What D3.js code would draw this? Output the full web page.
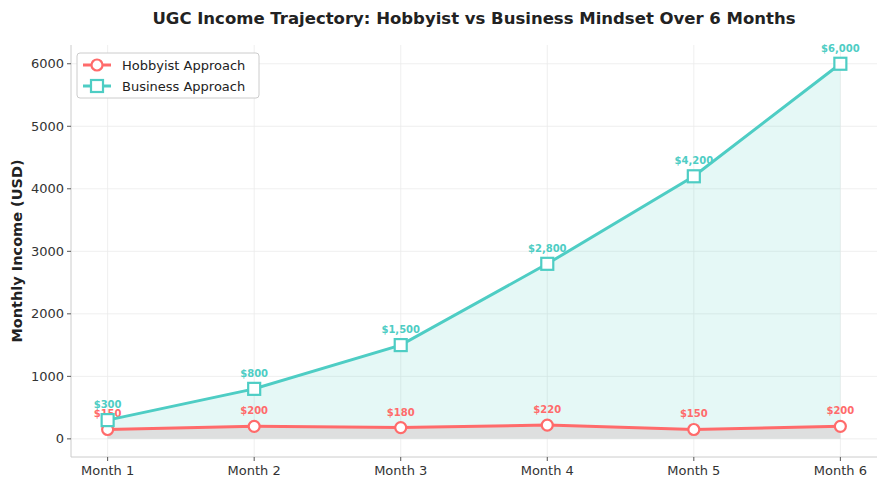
<!DOCTYPE html>
<html><head><meta charset="utf-8">
<script src="https://cdn.jsdelivr.net/npm/d3@7"></script>
<style>body{margin:0;background:#fff;font-family:"DejaVu Sans",sans-serif}</style>
</head><body><svg id="c" width="887" height="486"></svg>
<script>
const months=["Month 1","Month 2","Month 3","Month 4","Month 5","Month 6"];
const hobbyist=[150,200,180,220,150,200];
const business=[300,800,1500,2800,4200,6000];
const yTicks=[0,1000,2000,3000,4000,5000,6000];
const svg=d3.select("#c");
const L=71,R=877,T=45,B=457;
const x=d3.scaleLinear().domain([-0.25,5.25]).range([L,R]);
const y=d3.scaleLinear().domain([-290,6300]).range([B,T]);
const g=svg.append("g");
g.selectAll(".gx").data(months).enter().append("line").attr("x1",(d,i)=>x(i)).attr("x2",(d,i)=>x(i)).attr("y1",T).attr("y2",B).attr("stroke","#ebebeb").attr("stroke-width",0.8);
g.selectAll(".gy").data(yTicks).enter().append("line").attr("x1",L).attr("x2",R).attr("y1",d=>y(d)).attr("y2",d=>y(d)).attr("stroke","#ebebeb").attr("stroke-width",0.8);
const area=d3.area().x((d,i)=>x(i)).y0(y(0)).y1(d=>y(d));
g.append("path").datum(business).attr("d",area).attr("fill","#4ecdc4").attr("opacity",0.15);
g.append("path").datum(hobbyist).attr("d",area).attr("fill","#dddddd").attr("opacity",0.95);
const line=d3.line().x((d,i)=>x(i)).y(d=>y(d));
const series=[{d:hobbyist,c:"#ff6b6b",m:"circle",n:"Hobbyist Approach"},{d:business,c:"#4ecdc4",m:"square",n:"Business Approach"}];
series.forEach(s=>{
 g.append("path").datum(s.d).attr("d",line).attr("fill","none").attr("stroke",s.c).attr("stroke-width",3);
 s.d.forEach((v,i)=>{
  if(s.m=="circle") g.append("circle").attr("cx",x(i)).attr("cy",y(v)).attr("r",5.5).attr("fill","#fff").attr("stroke",s.c).attr("stroke-width",2.2);
  else g.append("rect").attr("x",x(i)-6).attr("y",y(v)-6).attr("width",12).attr("height",12).attr("fill","#fff").attr("stroke",s.c).attr("stroke-width",2.2);
  g.append("text").attr("x",x(i)).attr("y",y(v)-12).attr("text-anchor","middle").attr("font-size",10).attr("font-weight","bold").attr("fill",s.c).text("$"+d3.format(",")(v));
 });
});
g.append("line").attr("x1",L).attr("x2",L).attr("y1",T).attr("y2",B).attr("stroke","#ccc");
g.append("line").attr("x1",L).attr("x2",R).attr("y1",B).attr("y2",B).attr("stroke","#ccc");
yTicks.forEach(t=>{
 g.append("line").attr("x1",L-4).attr("x2",L).attr("y1",y(t)).attr("y2",y(t)).attr("stroke","#555");
 g.append("text").attr("x",L-7).attr("y",y(t)+4.5).attr("text-anchor","end").attr("font-size",13).attr("fill","#333").text(t);
});
months.forEach((m,i)=>{
 g.append("line").attr("x1",x(i)).attr("x2",x(i)).attr("y1",B).attr("y2",B+4).attr("stroke","#555");
 g.append("text").attr("x",x(i)).attr("y",B+18).attr("text-anchor","middle").attr("font-size",13).attr("fill","#333").text(m);
});
svg.append("text").attr("x",474).attr("y",24).attr("text-anchor","middle").attr("font-size",16.5).attr("font-weight","bold").attr("fill","#222").text("UGC Income Trajectory: Hobbyist vs Business Mindset Over 6 Months");
svg.append("text").attr("transform","translate(22,251) rotate(-90)").attr("text-anchor","middle").attr("font-size",14.5).attr("font-weight","bold").attr("fill","#222").text("Monthly Income (USD)");
const lg=svg.append("g");
lg.append("rect").attr("x",77).attr("y",53).attr("width",182).attr("height",45).attr("rx",3).attr("fill","#fff").attr("stroke","#ccc");
series.forEach((s,i)=>{
 const yy=65+i*21;
 lg.append("line").attr("x1",83).attr("x2",111).attr("y1",yy).attr("y2",yy).attr("stroke",s.c).attr("stroke-width",3);
 if(s.m=="circle") lg.append("circle").attr("cx",97).attr("cy",yy).attr("r",5.5).attr("fill","#fff").attr("stroke",s.c).attr("stroke-width",2.2);
 else lg.append("rect").attr("x",91).attr("y",yy-6).attr("width",12).attr("height",12).attr("fill","#fff").attr("stroke",s.c).attr("stroke-width",2.2);
 lg.append("text").attr("x",122).attr("y",yy+4.5).attr("font-size",13).attr("fill","#222").text(s.n);
});
</script></body></html>
